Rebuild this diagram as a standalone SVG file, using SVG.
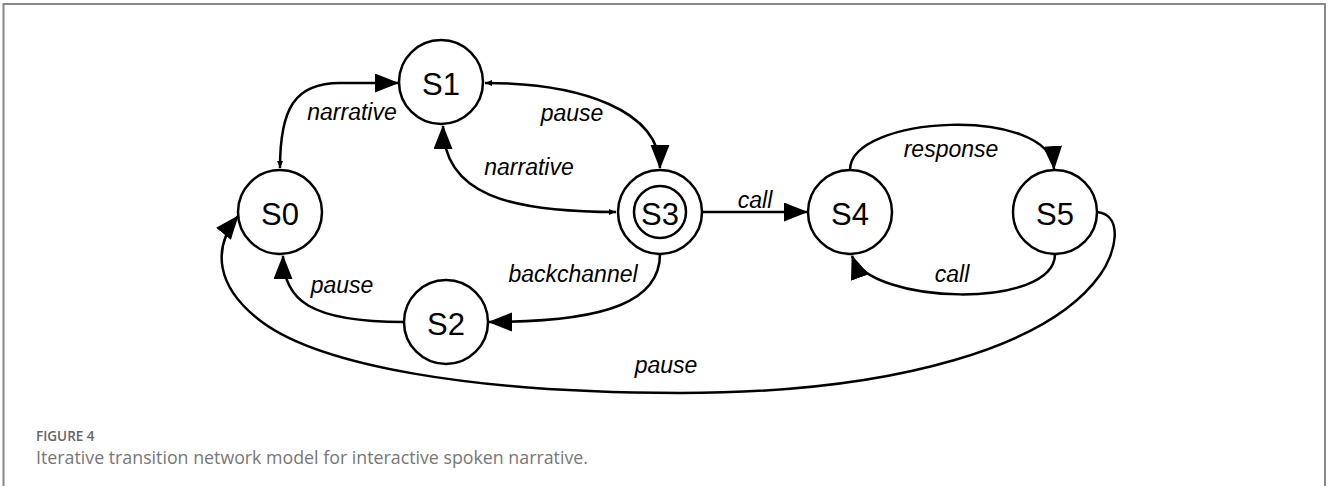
<svg xmlns="http://www.w3.org/2000/svg" width="1332" height="486" viewBox="0 0 1332 486">
<style>
.node circle{fill:#fff;stroke:#000;stroke-width:2.5}
.node text{font-family:"Liberation Sans",Arial,sans-serif;font-size:31px;text-anchor:middle;fill:#000}
.edge{fill:none;stroke:#000;stroke-width:2.5}
.lbl{font-family:"Liberation Sans",Arial,sans-serif;font-size:23px;font-style:italic;text-anchor:middle;fill:#000}
.frame{fill:none;stroke:#888;stroke-width:2}
.cap1{font-family:"Open Sans",sans-serif;font-size:13.5px;font-weight:600;fill:#666}
.cap2{font-family:"Open Sans",sans-serif;font-size:17.8px;fill:#777}
</style>
<defs>
<marker id="arr" markerUnits="userSpaceOnUse" markerWidth="25" markerHeight="20" refX="23" refY="9.5" orient="auto" viewBox="0 0 25 20">
<path d="M0,0 L24,9.5 L0,19 z" fill="#000"/>
</marker>
<marker id="sm" markerUnits="userSpaceOnUse" markerWidth="8" markerHeight="7" refX="7" refY="3" orient="auto-start-reverse" viewBox="0 0 8 7">
<path d="M0,0 L7,3 L0,6 z" fill="#000"/>
</marker>
</defs>
<path class="frame" d="M3.5,486 L3.5,4 L1325,4 L1325,486"/>
<g id="connectors">
<path class="edge" d="M280,168 C280,108 295,83 340,83 L398,83" marker-start="url(#sm)" marker-end="url(#arr)"/>
<path class="edge" d="M485,83 C580,83 660,110 660,168" marker-start="url(#sm)" marker-end="url(#arr)"/>
<path class="edge" d="M616,212 C510,212 443,195 443,126" marker-start="url(#sm)" marker-end="url(#arr)"/>
<path class="edge" d="M702,212 L807,212" marker-end="url(#arr)"/>
<path class="edge" d="M660,254 C660,300 610,322 489,322" marker-end="url(#arr)"/>
<path class="edge" d="M404,322 C310,322 283,300 283,256" marker-end="url(#arr)"/>
<path class="edge" d="M850,170 C850,115 1050,105 1054,169" marker-end="url(#arr)"/>
<path class="edge" d="M1055,254 C1055,310 870,305 852,256" marker-end="url(#arr)"/>
<path class="edge" d="M1097,212 C1125,215 1115,255 1100,275 C1050,345 900,393 680,393 C470,393 320,365 262,322 C215,287 212,248 238,216" marker-end="url(#arr)"/>
<text class="lbl" x="352" y="120">narrative</text>
<text class="lbl" x="572" y="121">pause</text>
<text class="lbl" x="529" y="175">narrative</text>
<text class="lbl" x="755" y="208">call</text>
<text class="lbl" x="573" y="282">backchannel</text>
<text class="lbl" x="342" y="293">pause</text>
<text class="lbl" x="951" y="157">response</text>
<text class="lbl" x="952" y="282">call</text>
<text class="lbl" x="666" y="373">pause</text>
</g>
<g id="S0" class="node"><circle cx="280" cy="212" r="42"/><text x="280" y="225">S0</text></g>
<g id="S1" class="node"><circle cx="441" cy="82" r="42"/><text x="441" y="95">S1</text></g>
<g id="S2" class="node"><circle cx="446" cy="322" r="42"/><text x="446" y="335">S2</text></g>
<g id="S3" class="node"><circle cx="660" cy="212" r="42"/><circle cx="660" cy="212" r="26"/><text x="660" y="225">S3</text></g>
<g id="S4" class="node"><circle cx="850" cy="212" r="42"/><text x="850" y="225">S4</text></g>
<g id="S5" class="node"><circle cx="1055" cy="212" r="42"/><text x="1055" y="225">S5</text></g>
<text class="cap1" x="36" y="441">FIGURE 4</text>
<text class="cap2" x="36" y="464">Iterative transition network model for interactive spoken narrative.</text>
</svg>
